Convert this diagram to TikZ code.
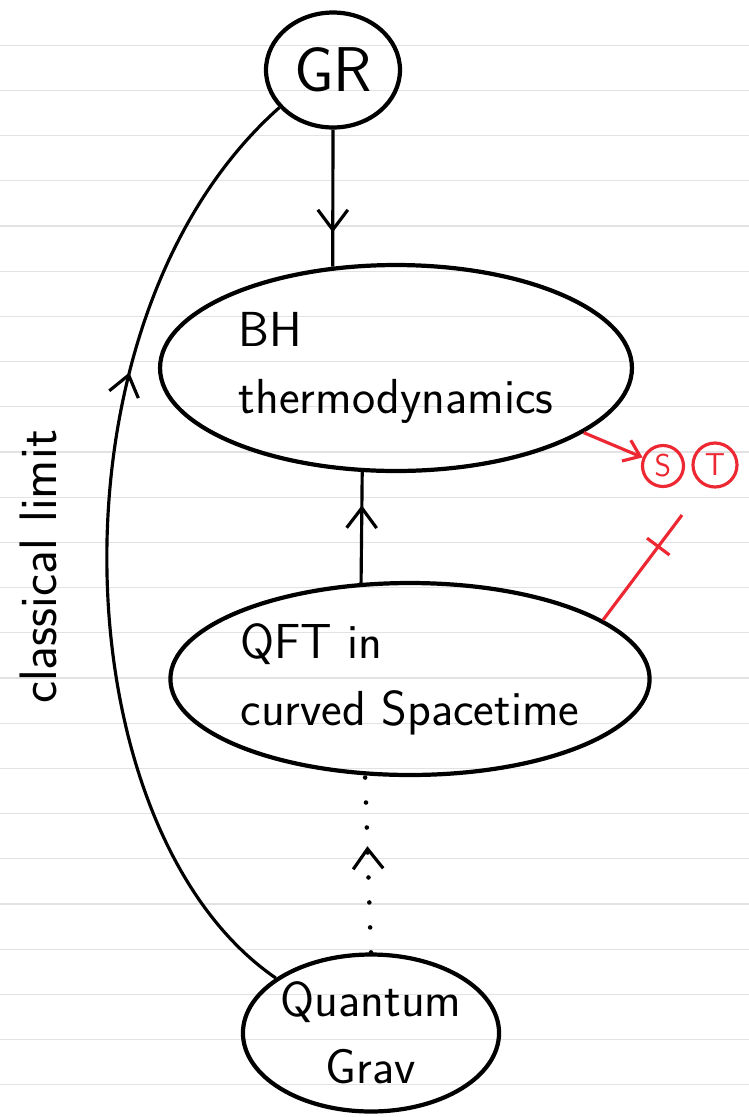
\documentclass[tikz,border=0pt]{standalone}
\usepackage{tikz}
\usetikzlibrary{shapes.geometric,arrows.meta,decorations.markings}

\definecolor{rot}{RGB}{237,40,50}
\definecolor{linie}{RGB}{226,226,226}

\tikzset{
    blase/.style={draw, ellipse, line width=2.4pt, inner sep=0pt,
        font=\sffamily\fontsize{28}{38}\selectfont},
    kreis/.style={draw=rot, text=rot, circle, line width=1.8pt, inner sep=0pt,
        font=\sffamily\fontsize{18}{20}\selectfont},
    spitze/.tip={Straight Barb[length=4mm,width=6mm]},
    pfeil/.style={line width=1.8pt, postaction={decorate},
        decoration={markings, mark=at position #1 with
            {\arrow[solid, line width=1.8pt]{spitze}}}},
}

\begin{document}
\begin{tikzpicture}[x=0.02cm, y=-0.02cm]
            \useasboundingbox (0,0) rectangle (749,1117);
            % Linien im Heft:
            \foreach \k in {1,...,24}
                \draw[linie, line width=0.6pt] (0,{45.2*\k}) -- (749,{45.2*\k});
            % Blasen:
            \node[blase, minimum width=2.68cm, minimum height=2.3cm,
                font=\sffamily\fontsize{36}{40}\selectfont] (GR) at (333,70) {GR};
            \node[blase, minimum width=9.44cm, minimum height=4.12cm, align=left]
                (BH) at (396,368) {BH\\thermodynamics};
            \node[blase, minimum width=8.4cm, minimum height=3.84cm, align=left]
                (QFT) at (410,679) {QFT in\\curved Spacetime};
            \node[blase, minimum width=4.86cm, minimum height=3.14cm, align=center]
                (QG) at (371,1033) {Quantum\\Grav};
            % rote Kreise:
            \node[kreis, minimum size=0.82cm] (S) at (663,466) {S};
            \node[kreis, minimum size=0.88cm] (T) at (715,465) {T};
            \coordinate (ende) at (682,515);
            % Pfeile:
            \draw[pfeil=0.75] (GR.south) -- (BH.122);
            \draw[pfeil=0.7] (QFT.117) -- (BH.252);
            \draw[pfeil=0.6, line width=2.6pt, line cap=round,
                dash pattern=on 0pt off 0.5cm] (QG.north) -- (QFT.245);
            \draw[pfeil=0.68] (QG.150) .. controls (60,830) and (40,320) .. (GR.215)
                node[pos=0.5, left=24pt, rotate=90, anchor=south,
                    font=\sffamily\fontsize{30}{34}\selectfont] {classical limit};
            % rot:
            \draw[rot, line width=1.8pt, -{Straight Barb[length=3mm,width=4.5mm]}]
                (BH.-19) -- (S);
            \draw[rot, line width=1.8pt, postaction={decorate},
                decoration={markings, mark=at position 0.7 with
                    {\draw[rot, line width=1.8pt] (0pt,-8pt) -- (0pt,8pt);}}]
                (QFT.17) -- (ende);
\end{tikzpicture}
\end{document}
